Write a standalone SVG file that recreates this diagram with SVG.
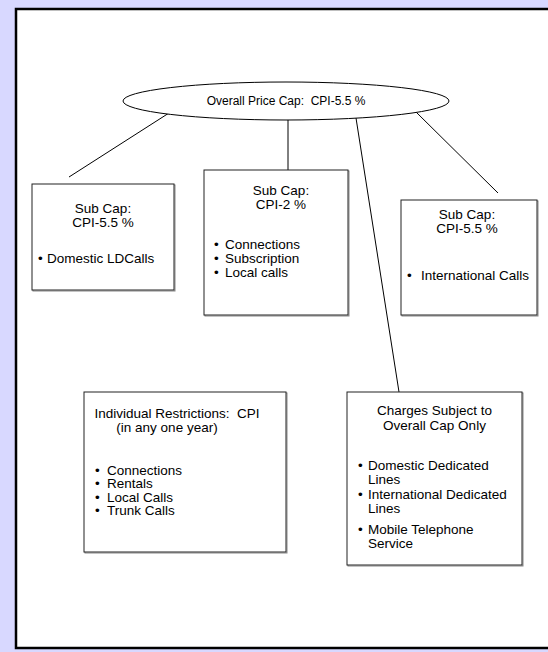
<svg xmlns="http://www.w3.org/2000/svg" width="548" height="652" viewBox="0 0 548 652">
<style>
text{font-family:"Liberation Sans",Arial,sans-serif;font-size:13.5px;fill:#000;white-space:pre}
.c{text-anchor:middle}
.box{fill:#fff;stroke:#222;stroke-width:1}
.sh{fill:none;stroke:#888;stroke-width:1}
.ln{stroke:#000;stroke-width:1;fill:none}
</style>
<rect x="0" y="0" width="548" height="652" fill="#d8d8ff"/>
<rect x="16" y="9" width="540" height="639" fill="#fff" stroke="#000" stroke-width="2.5"/>
<g id="connectors">
<line class="ln" x1="169" y1="113" x2="69" y2="177"/>
<line class="ln" x1="288" y1="120" x2="288" y2="170"/>
<line class="ln" x1="356" y1="118" x2="399" y2="392"/>
<line class="ln" x1="416" y1="112" x2="498" y2="193"/>
</g>
<g id="overall">
<ellipse cx="286" cy="101" rx="163" ry="19" fill="#fff" stroke="#000" stroke-width="1"/>
<text class="c" x="286" y="105" xml:space="preserve" style="font-size:12px">Overall Price Cap:  CPI-5.5 %</text>
</g>
<g id="subcap1">
<rect class="sh" x="33" y="185" width="142" height="106"/>
<rect class="box" x="32" y="184" width="142" height="106"/>
<text class="c" x="103" y="213">Sub Cap:</text>
<text class="c" x="103" y="227">CPI-5.5 %</text>
<text x="38" y="263">•</text><text x="47" y="263">Domestic LDCalls</text>
</g>
<g id="subcap2">
<rect class="sh" x="205" y="171" width="144" height="145"/>
<rect class="box" x="204" y="170" width="144" height="145"/>
<text class="c" x="281" y="195">Sub Cap:</text>
<text class="c" x="281" y="209">CPI-2 %</text>
<text x="214" y="249">•</text><text x="225" y="249">Connections</text>
<text x="214" y="263">•</text><text x="225" y="263">Subscription</text>
<text x="214" y="277">•</text><text x="225" y="277">Local calls</text>
</g>
<g id="subcap3">
<rect class="sh" x="402" y="201" width="136" height="115"/>
<rect class="box" x="401" y="200" width="136" height="115"/>
<text class="c" x="467" y="219">Sub Cap:</text>
<text class="c" x="467" y="233">CPI-5.5 %</text>
<text x="407" y="280">•</text><text x="421" y="280">International Calls</text>
</g>
<g id="individual">
<rect class="sh" x="85" y="393" width="202" height="160"/>
<rect class="box" x="84" y="392" width="202" height="160"/>
<text class="c" x="177" y="418" xml:space="preserve">Individual Restrictions:  CPI</text>
<text class="c" x="167" y="432">(in any one year)</text>
<text x="95" y="475">•</text><text x="107" y="475">Connections</text>
<text x="95" y="488">•</text><text x="107" y="488">Rentals</text>
<text x="95" y="502">•</text><text x="107" y="502">Local Calls</text>
<text x="95" y="515">•</text><text x="107" y="515">Trunk Calls</text>
</g>
<g id="charges">
<rect class="sh" x="348" y="393" width="175" height="173"/>
<rect class="box" x="347" y="392" width="175" height="173"/>
<text class="c" x="434.5" y="415">Charges Subject to</text>
<text class="c" x="434.5" y="430">Overall Cap Only</text>
<text x="358" y="470">•</text><text x="368" y="470">Domestic Dedicated</text>
<text x="368" y="484">Lines</text>
<text x="358" y="499">•</text><text x="368" y="499">International Dedicated</text>
<text x="368" y="513">Lines</text>
<text x="358" y="534">•</text><text x="368" y="534">Mobile Telephone</text>
<text x="368" y="548">Service</text>
</g>
</svg>
